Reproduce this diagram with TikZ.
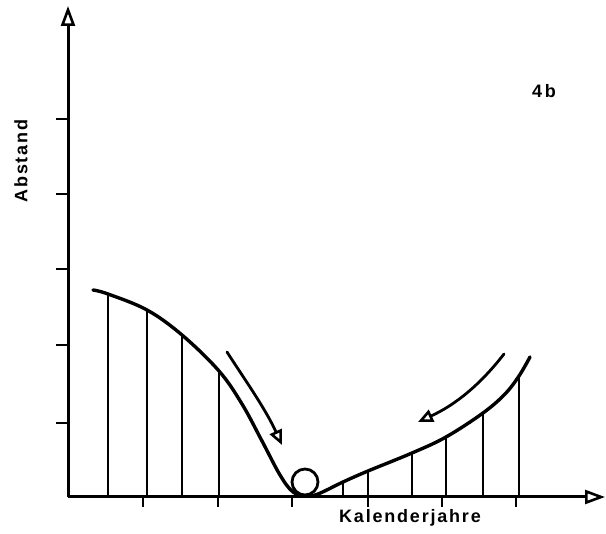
\documentclass[tikz,border=0pt]{standalone}
\usepackage{fontspec}
\setmainfont{Liberation Sans}
\usetikzlibrary{arrows.meta}
\newfontfamily\lblfont[LetterSpace=10]{Liberation Sans Bold}
\tikzset{
  axisline/.style={line width=3pt, -{Triangle[open, length=20pt, width=14pt, line width=2.6pt]}},
  tickline/.style={line width=2.6pt},
  curveline/.style={line width=3.4pt, line cap=round},
  hatch/.style={line width=1.7pt},
  flowarrow/.style={line width=2.8pt, line cap=round, -{Triangle[open, length=15pt, width=13pt, line width=2.6pt]}},
  lbl/.style={font=\lblfont\fontsize{18}{21}\selectfont, inner sep=0pt}
}
\begin{document}
\begin{tikzpicture}[x=1pt,y=-1pt]
\useasboundingbox (0,0) rectangle (606,534);
% axes
\coordinate (O) at (68,497);
\coordinate (Ytop) at (68,6);
\coordinate (Xend) at (605,497);
\draw[axisline] (O) -- (Ytop);
\draw[axisline] (O) -- (Xend);
% y ticks
\foreach \y in {119,194,269,345,423} \draw[tickline] (56,\y) -- (68,\y);
% x ticks
\foreach \x in {143,218,292,368,442,516} \draw[tickline] (\x,497) -- (\x,507);
% hatch lines
\foreach \x/\y in {108/295,147/310,182/336,219/372,343/482,368/471,412/453,446/437,483/413,519/377}
  \draw[hatch] (\x,\y) -- (\x,497);
% curve
\draw[curveline] plot[smooth, tension=0.6] coordinates {(93,290) (108,294) (147,310) (182,335) (219,371) (242,404) (262,441) (280,475) (293,492) (306,496) (318,494) (343,482) (368,471) (412,453) (446,437) (483,413) (505,394) (519,376) (530,357)};
% ball
\node[circle, draw, line width=2.8pt, minimum size=26pt, inner sep=0pt] (ball) at (305,482) {};
% flow arrows
\draw[flowarrow] (227,352) .. controls (245,380) and (265,408) .. (282,445);
\draw[flowarrow] (504,354) .. controls (480,385) and (455,405) .. (418,422);
% labels
\node[lbl, rotate=90] (abst) at (21,161) {Abstand};
\node[lbl] (kal) at (410,518) {Kalenderjahre};
\node[lbl] (fig) at (544,91) {4\,b};
\end{tikzpicture}
\end{document}
